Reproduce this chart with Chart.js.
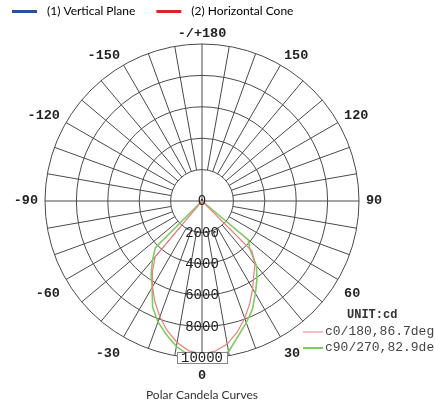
<!DOCTYPE html>
<html>
<head>
<meta charset="utf-8">
<script src="https://cdn.jsdelivr.net/npm/chart.js@4.4.0/dist/chart.umd.min.js"></script>
<style>
html,body{margin:0;padding:0;background:#fff;}
#wrap{width:435px;height:410px;position:relative;}
</style>
</head>
<body>
<div id="wrap"><canvas id="c" width="435" height="410"></canvas></div>
<script>
// ---- data ----
const angles = [180,175,170,165,160,155,150,145,140,135,130,125,120,115,110,105,100,95,90,85,80,75,70,65,60,55,50,45,40,35,30,25,20,15,10,5,0,-5,-10,-15,-20,-25,-30,-35,-40,-45,-50,-55,-60,-65,-70,-75,-80,-85,-90,-95,-100,-105,-110,-115,-120,-125,-130,-135,-140,-145,-150,-155,-160,-165,-170,-175];

const c0_180 = [0,0,0,0,0,0,0,0,0,0,0,0,0,0,0,0,0,0,0,0,0,0,0,0,0,0,0,
  4500,5250,5750,6450,7200,7950,8650,9250,9600,9750,
  9580,9150,8550,7850,7100,6300,5500,4650,
  0,0,0,0,0,0,0,0,0,0,0,0,0,0,0,0,0,0,0,0,0,0,0,0,0,0,0];

const c90_270 = [0,0,0,0,0,0,0,0,0,0,0,0,0,0,0,0,0,0,0,0,0,0,0,0,0,0,
  3850,4300,5400,6100,6800,7600,8250,8900,9750,9950,10000,
  9850,9400,8800,8200,7450,6350,5650,4900,4200,
  0,0,0,0,0,0,0,0,0,0,0,0,0,0,0,0,0,0,0,0,0,0,0,0,0,0];

const seriesNames = ['c0/180,86.7deg', 'c90/270,82.9deg'];
const radialTicks = [0, 2000, 4000, 6000, 8000, 10000];
const angleTicks = [180, 150, 120, 90, 60, 30, 0, -30, -60, -90, -120, -150];
const topLegend = ['(1) Vertical Plane', '(2) Horizontal Cone'];
const unitText = 'UNIT:cd';
const titleText = 'Polar Candela Curves';

// ---- styles ----
const GRID = '#4a4a4a';
const RED = 'rgb(232,128,128)';
const GREEN = 'rgb(128,204,100)';
const LEG_COLORS = ['#2a4ea6', '#d9262c'];
const NARROW = "'Lato','Liberation Sans Narrow','DejaVu Sans Condensed',sans-serif";
const MONO = "'Liberation Mono','DejaVu Sans Mono',monospace";

// legend line marker as a point style (line + gap)
function legendMarker(color) {
  const cv = document.createElement('canvas');
  cv.width = 40; cv.height = 3;
  const g = cv.getContext('2d');
  g.fillStyle = color;
  g.fillRect(11, 0, 25, 3);
  return cv;
}
const markers = LEG_COLORS.map(legendMarker);

const angleLabelText = v => v === 180 ? '-/+180' : String(v);

const overlayPlugin = {
  id: 'polarOverlay',
  afterDatasetsDraw(chart) {
    const s = chart.scales.r;
    const ctx = chart.ctx;
    const xc = s.xCenter, yc = s.yCenter;
    ctx.save();
    // radial tick labels along the downward (0 deg) axis
    ctx.font = '14px ' + MONO;
    ctx.textAlign = 'center';
    ctx.textBaseline = 'middle';
    radialTicks.forEach(v => {
      const r = s.getDistanceFromCenterForValue(v);
      const txt = String(v);
      const y = yc + r;
      if (v === radialTicks[radialTicks.length - 1]) {
        const w = ctx.measureText(txt).width + 8;
        ctx.fillStyle = '#fff';
        ctx.fillRect(xc - w / 2, y - 6, w, 12);
        ctx.strokeStyle = '#888';
        ctx.lineWidth = 1;
        ctx.strokeRect(Math.round(xc - w / 2) + 0.5, Math.round(y - 6) + 0.5, Math.round(w), 11);
      }
      ctx.fillStyle = '#222';
      ctx.fillText(txt, xc, y + 0.5);
    });
    // angle labels
    ctx.font = 'bold 13.5px ' + MONO;
    ctx.fillStyle = '#222';
    angleTicks.forEach(v => {
      const i = angles.indexOf(v);
      const th = s.getIndexAngle(i);
      const p = s.getPointPosition(i, s.drawingArea + 7);
      const sn = Math.sin(th), cs = Math.cos(th);
      ctx.textAlign = Math.abs(sn) < 0.01 ? 'center' : (sn > 0 ? 'left' : 'right');
      ctx.textBaseline = 'middle';
      const dy = cs > 0.01 ? -3 : (cs < -0.01 ? 11 : 0);
      ctx.fillText(angleLabelText(v), p.x, p.y + dy);
    });
    // inner unit legend
    ctx.font = 'bold 12px ' + MONO;
    ctx.textAlign = 'left';
    ctx.fillStyle = '#333';
    ctx.fillText(unitText, xc + 145, yc + 114);
    ctx.font = '13px ' + MONO;
    chart.data.datasets.forEach((ds, k) => {
      const y = yc + 131 + k * 16;
      ctx.strokeStyle = ds.borderColor;
      ctx.lineWidth = k === 0 ? 1 : 2;
      ctx.beginPath();
      ctx.moveTo(xc + 101, y);
      ctx.lineTo(xc + 121, y);
      ctx.stroke();
      ctx.fillStyle = '#444';
      ctx.fillText(ds.label, xc + 123, y);
    });
    ctx.restore();
  }
};

const isAxis = i => angles[i] % 90 === 0;

new Chart(document.getElementById('c'), {
  type: 'radar',
  data: {
    labels: angles.map(String),
    datasets: [
      { label: seriesNames[0], data: c0_180, borderColor: RED, borderWidth: 1.2, fill: false, pointRadius: 0, tension: 0 },
      { label: seriesNames[1], data: c90_270, borderColor: GREEN, borderWidth: 1.6, fill: false, pointRadius: 0, tension: 0 }
    ]
  },
  options: {
    responsive: false,
    animation: false,
    layout: { padding: { left: -9, right: 22, top: -5, bottom: 0 } },
    plugins: {
      tooltip: { enabled: false },
      legend: {
        position: 'top',
        align: 'start',
        onClick: null,
        labels: {
          usePointStyle: true,
          pointStyleWidth: 40,
          padding: 10,
          color: '#333',
          font: { family: NARROW, size: 12 },
          generateLabels: () => topLegend.map((t, i) => ({
            text: t, pointStyle: markers[i], fillStyle: LEG_COLORS[i],
            strokeStyle: LEG_COLORS[i], lineWidth: 0, hidden: false, datasetIndex: i
          }))
        }
      },
      title: {
        display: true,
        text: titleText,
        position: 'bottom',
        color: '#333',
        font: { family: NARROW, size: 12, weight: 'normal' },
        padding: { top: 4, bottom: 8 }
      }
    },
    scales: {
      r: {
        min: 0,
        max: 10000,
        startAngle: 0,
        ticks: { stepSize: 2000, display: false },
        pointLabels: { display: false },
        grid: { circular: true, color: GRID, lineWidth: 1 },
        angleLines: {
          display: true,
          color: c => (angles[c.index] % 10 === 0 ? GRID : 'transparent'),
          lineWidth: c => (angles[c.index] % 10 === 0 ? 1 : 0),
          borderDash: c => isAxis(c.index) ? [] : [0, c.scale.getDistanceFromCenterForValue(radialTicks[1]), 400]
        },
        afterFit: scale => {
          scale.xCenter = 202;
          scale.yCenter = 201;
          scale.drawingArea = 157;
        }
      }
    }
  },
  plugins: [overlayPlugin]
});
</script>
</body>
</html>
